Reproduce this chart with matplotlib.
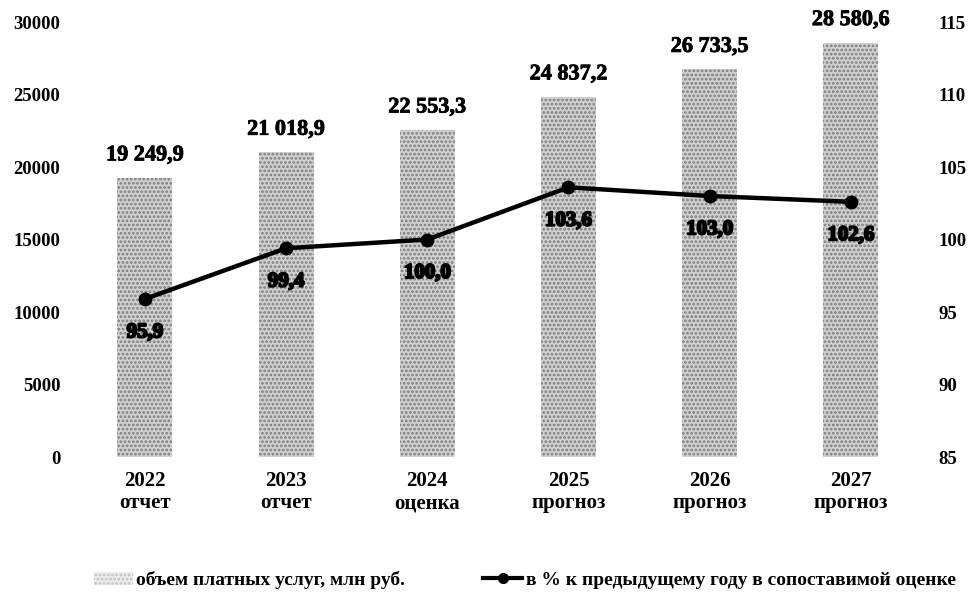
import matplotlib.pyplot as plt
import matplotlib.patheffects as pe
from matplotlib.patches import Patch
from matplotlib.lines import Line2D

# data
years = ['2022', '2023', '2024', '2025', '2026', '2027']
stages = ['отчет', 'отчет', 'оценка', 'прогноз', 'прогноз', 'прогноз']
volume = [19249.9, 21018.9, 22553.3, 24837.2, 26733.5, 28580.6]
growth = [95.9, 99.4, 100.0, 103.6, 103.0, 102.6]

bar_label = 'объем платных услуг, млн руб.'
line_label = 'в % к предыдущему году в сопоставимой оценке'


def ru(v, nd=1):
    """Russian number format: space for thousands, comma for decimals"""
    s = f'{v:,.{nd}f}'
    return s.replace(',', ' ').replace('.', ',')


plt.rcParams['font.family'] = ['Liberation Serif', 'DejaVu Serif']
plt.rcParams['font.weight'] = 'bold'
plt.rcParams['hatch.linewidth'] = 1.3

fig = plt.figure(figsize=(9.72, 6.0), dpi=100)
ax = fig.add_axes([0.0765, 0.2383, 0.8715, 0.7250])
ax2 = ax.twinx()

x = list(range(len(years)))
bars = ax.bar(x, volume, width=0.39, color='#d0d0d0', edgecolor='#7c7c7c',
              linewidth=0, hatch='....', zorder=1)

for xi, v in zip(x, volume):
    ax.annotate(ru(v), (xi, v), xytext=(0, 9), textcoords='offset points',
                ha='center', va='bottom', fontsize=16, fontweight='bold',
                path_effects=[pe.withStroke(linewidth=0.6, foreground='black')])

ax.set_xlim(-0.5, len(years) - 0.5)
ax.set_ylim(0, 30000)
ax.set_yticks(range(0, 30001, 5000))
ax.set_xticks(x)
ax.set_xticklabels([f'{y}\n{s}' for y, s in zip(years, stages)],
                   fontsize=15, fontweight='bold', linespacing=1.15)
ax.tick_params(axis='x', length=0, pad=10)
ax.tick_params(axis='y', length=0, pad=10, labelsize=13.5)

ax2.plot(x, growth, color='black', linewidth=3.2, marker='o', markersize=9,
         zorder=3)
for xi, g in zip(x, growth):
    ax2.annotate(f'{g:.1f}'.replace('.', ','), (xi, g), xytext=(0, -24),
                 textcoords='offset points', ha='center', va='center',
                 fontsize=15, fontweight='bold',
                 path_effects=[pe.withStroke(linewidth=1.5, foreground='black')])
ax2.set_ylim(85, 115)
ax2.set_yticks(range(85, 116, 5))
ax2.tick_params(axis='y', length=0, pad=12, labelsize=13.5)

for a in (ax, ax2):
    for sp in a.spines.values():
        sp.set_visible(False)
for lbl in ax.get_yticklabels() + ax2.get_yticklabels():
    lbl.set_fontweight('bold')

handles = [
    Patch(facecolor='#ececec', edgecolor='#c0c0c0', linewidth=0, hatch='....'),
    Line2D([], [], color='black', linewidth=3, marker='o', markersize=7),
]
fig.legend(handles, [bar_label, line_label], loc='center',
           bbox_to_anchor=(0.54, 0.033), ncol=2, frameon=False,
           prop={'size': 14, 'weight': 'bold'}, handlelength=2.0,
           handletextpad=0.2, columnspacing=4.0)

fig.savefig('out.png', dpi=100)
